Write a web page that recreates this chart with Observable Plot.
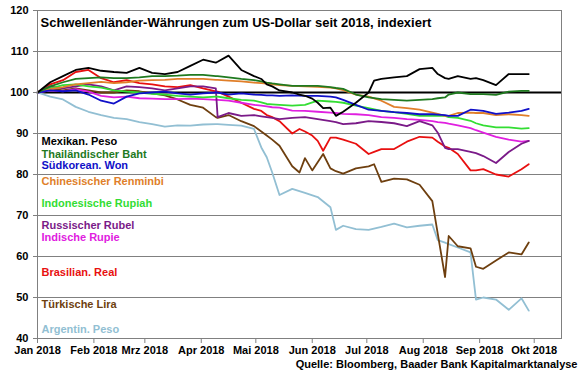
<!DOCTYPE html>
<html><head><meta charset="utf-8">
<script src="https://cdn.jsdelivr.net/npm/d3@7"></script>
<script src="https://cdn.jsdelivr.net/npm/@observablehq/plot@0.6"></script>
<style>body{margin:0;background:#fff}</style>
</head><body><div id="chart"></div>
<script>
const title = "Schwellenländer-Währungen zum US-Dollar seit 2018, indexiert";
const source = "Quelle: Bloomberg, Baader Bank Kapitalmarktanalyse";

const dates = ["2018-01-01","2018-01-08","2018-01-15","2018-01-22","2018-01-29","2018-02-05","2018-02-12","2018-02-19","2018-02-26","2018-03-05","2018-03-12","2018-03-19","2018-03-26","2018-04-02","2018-04-09","2018-04-10","2018-04-16","2018-04-23","2018-04-30","2018-05-04","2018-05-07","2018-05-10","2018-05-14","2018-05-21","2018-05-25","2018-05-28","2018-06-01","2018-06-04","2018-06-07","2018-06-11","2018-06-14","2018-06-18","2018-06-25","2018-07-02","2018-07-05","2018-07-09","2018-07-16","2018-07-23","2018-07-30","2018-08-06","2018-08-09","2018-08-13","2018-08-15","2018-08-20","2018-08-27","2018-08-30","2018-09-03","2018-09-10","2018-09-17","2018-09-24","2018-09-28"];

const mexPeso   = [100,102.5,104,105.5,106,105.3,105,104.8,106,104.8,104.5,105,106.5,108,107.3,107.5,109,105.5,104,103.3,102,101.5,100.5,100,99.5,99.2,98.5,97.5,96.2,96.3,94.3,95.3,97.5,100,102.9,103.3,103.7,104,105.7,106,104.5,103.5,103.3,104,103.3,103.5,103,101.8,104.5,104.5,104.5];
const thaiBaht  = [100,101.5,102.5,103.3,103.5,103.7,103.5,103.5,103.7,104,104,104.1,104.3,104.3,104,104,103.7,103.3,103,102.7,102.4,102.2,102,101.6,null,101.6,null,101.6,null,101.3,101.1,100.9,99.5,98.8,null,98.4,98.2,98,98.2,98.4,98.6,98.8,99.5,100,99.6,99.6,99.6,99.4,100.2,100.4,100.4];
const krWon     = [100,100.5,100.3,100.5,99.5,98,97.3,99,99.8,100,100.2,99.8,99.5,99.8,100,100,99.5,99.8,99.5,99.4,99.3,99.3,99.2,99.3,null,99.2,null,99.2,null,99,98.8,98.2,97,95.8,null,95.5,95.2,95,94.7,94.7,94.6,94.5,94.3,94.3,95.8,95.7,95.5,94.8,95.1,95.5,96];
const cnRenminbi= [100,100.8,101.3,102,102.3,102.6,102.3,102.5,102.9,103,103.1,103.3,103.3,103.3,103.1,103.1,102.9,102.7,102.4,102.3,102.2,102,101.8,101.6,null,101.5,null,101.4,null,101.2,101,100.6,99.5,99,null,98,96.5,96.2,95.8,95.1,94.8,94.3,94.3,95,95.1,95,95,94.5,94.7,94.5,94.3];
const idRupiah  = [100,101,101.8,102,101.5,101.2,100.5,100.2,100,99.7,99.5,99.2,99,98.8,99,99,98.6,98.2,98,97.6,97.2,97.1,97,96.8,null,97,null,98,null,97.8,97.7,97.5,96.8,96.2,null,95.5,95.2,94.8,94.3,94.3,94.3,94.3,94,93.8,93.1,92.5,92,91.5,91.5,91.2,91.3];
const ruRubel   = [100,101.5,101,101.5,102,101.5,100.5,101.5,101.3,101,100.5,101,101.5,101.5,101,94,95,94.3,94.5,94.2,94,93.8,93.5,93.8,null,94,null,93.5,null,93,92.8,92.3,92.5,93,null,92.8,92.5,91.8,93,92,90.2,86.5,86.2,86.2,85.5,85.2,84.5,82.8,85.5,87.5,88.2];
const inRupie   = [100,100.5,100.3,100.8,100.2,99.2,98.8,99,98.6,98.5,98.4,98.4,98.5,98.4,98.2,98.2,98,97.5,97,96.8,96.6,96.4,96.3,95.6,null,95.5,null,95.3,null,95.1,95,94.8,94.7,94.5,null,94,93.8,93.5,93.3,93,92.8,92.6,92.4,92,91.3,90.8,90.2,89.2,88.5,88,88.2];
const brReal    = [100,102,103,105,105.5,103.5,102.5,103,102.3,102,101.5,101.3,101.8,101,100.3,100.2,99,97.5,96,95.5,94.5,94,93,90,91.1,90.5,89.5,88.2,85.8,89,89,88.5,87.5,85,85.5,86.2,86.2,88,89.2,89,88,86.8,86.5,85,81,81,81.3,80,79.5,81.3,82.5];
const trLira    = [100,101,100.5,101,100.5,100,100,100.5,100.3,99.8,99.3,98.3,97,96.3,94,93.8,94.5,93,91.8,90.5,89.5,88.5,87,82,80.5,84,81,83,85,81.5,80.8,80.2,81.5,82,82.5,78.2,79,78.8,77.5,73.5,65.5,55,65,62.5,62,57.5,57,59,61,60.5,63.4];
const arPeso    = [100,99,98.3,96.5,95.3,94.5,93.8,93.5,92.8,92.3,91.7,92,91.9,92.2,92.3,92.3,92.1,91.9,91.1,86.6,84.2,80.5,75,76.5,null,75.5,null,74.5,null,72,66.5,67.5,66.7,66.5,null,67.2,68,67.1,67.5,67.8,64,63.4,63,62.2,61,49.5,50,49.5,47,49.8,46.8];

const seriesNames  = ["Mexikan. Peso","Thailändischer Baht","Südkorean. Won","Chinesischer Renminbi","Indonesische Rupiah","Russischer Rubel","Indische Rupie","Brasilian. Real","Türkische Lira","Argentin. Peso"];
const seriesColors = ["#000000","#1f7a1f","#1010c8","#e07f2a","#33dd33","#7a1a88","#e020e0","#e81010","#6e3f0f","#92bfd3"];
const legendY      = [88.0,85.0,82.2,78.2,72.9,67.5,64.6,56.1,48.2,42.1];

const yTicks = [40,50,60,70,80,90,100,110,120];
const monthTicks  = ["2018-01-01","2018-02-01","2018-03-01","2018-04-01","2018-05-01","2018-06-01","2018-07-01","2018-08-01","2018-09-01","2018-10-01"];
const monthLabels = ["Jan 2018","Feb 2018","Mrz 2018","Apr 2018","Mai 2018","Jun 2018","Jul 2018","Aug 2018","Sep 2018","Okt 2018"];

const parse = d3.utcParse("%Y-%m-%d");
const series = [mexPeso, thaiBaht, krWon, cnRenminbi, idRupiah, ruRubel, inRupie, brReal, trLira, arPeso];
const rows = [];
for (let i = series.length - 1; i >= 0; i--) {
  series[i].forEach((v, j) => { if (v != null) rows.push({date: parse(dates[j]), value: v, name: seriesNames[i]}); });
}
const monthDates = monthTicks.map(parse);
const legend = seriesNames.map((n, i) => ({name: n, y: legendY[i]}));

const plot = Plot.plot({
  width: 580, height: 375,
  marginLeft: 37, marginRight: 19, marginTop: 10, marginBottom: 37,
  style: {fontFamily: "'Liberation Sans', Arial, sans-serif", fontSize: "11px", fontWeight: "bold", color: "#000", background: "#fff"},
  x: {type: "utc", domain: [parse("2018-01-01"), parse("2018-10-16")]},
  y: {domain: [40, 120]},
  color: {domain: seriesNames, range: seriesColors},
  marks: [
    Plot.ruleY(yTicks, {stroke: "#808080", strokeWidth: 1}),
    Plot.ruleY([100], {stroke: "#000", strokeWidth: 2}),
    Plot.lineY(rows, {x: "date", y: "value", z: "name", stroke: "name", strokeWidth: 1.8, strokeLinejoin: "round"}),
    Plot.frame({stroke: "#808080"}),
    Plot.axisX({ticks: monthDates, tickFormat: d => monthLabels[monthDates.findIndex(m => +m === +d)], tickSize: 5, tickPadding: 3, stroke: "#808080", fill: "#000", fontSize: 11, fontWeight: "bold"}),
    Plot.axisY({ticks: yTicks, tickSize: 4, tickPadding: 5, stroke: "#808080", fill: "#000", fontSize: 11, fontWeight: "bold"}),
    Plot.text(legend, {frameAnchor: "left", y: "y", text: "name", fill: "name", dx: 4, fontSize: 11, fontWeight: "bold", textAnchor: "start"}),
    Plot.text([title], {frameAnchor: "top-left", dx: 3, dy: 12.5, fontSize: 13, fontWeight: "bold", textAnchor: "start", lineAnchor: "middle"}),
    Plot.text([source], {frameAnchor: "bottom-right", dx: 16, dy: 26, fontSize: 11, fontWeight: "bold", textAnchor: "end", lineAnchor: "middle"})
  ]
});
document.getElementById("chart").appendChild(plot);
</script>
</body></html>
